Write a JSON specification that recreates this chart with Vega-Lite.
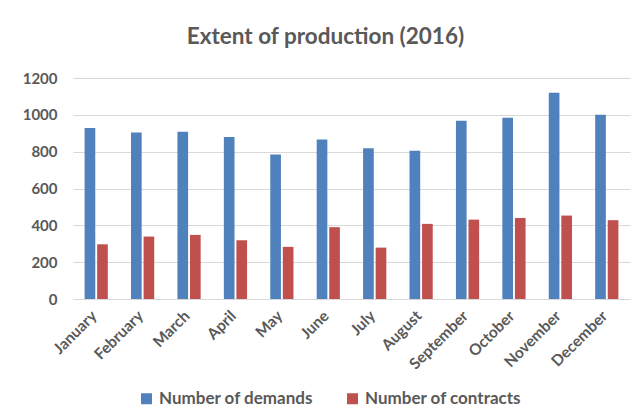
{
  "$schema": "https://vega.github.io/schema/vega-lite/v6.json",
  "width": 557,
  "height": 221,
  "autosize": {"type": "none"},
  "padding": {"left": 73, "top": 78, "right": 8, "bottom": 117},
  "background": "white",
  "title": {
    "text": "Extent of production (2016)",
    "font": "Lato",
    "fontSize": 22.5,
    "fontWeight": "bold",
    "color": "#595959",
    "anchor": "middle",
    "frame": "group",
    "dx": -26,
    "offset": 23
  },
  "data": {
    "values": [
      {"month": "January", "series": "Number of demands", "value": 928},
      {"month": "February", "series": "Number of demands", "value": 904},
      {"month": "March", "series": "Number of demands", "value": 908},
      {"month": "April", "series": "Number of demands", "value": 879},
      {"month": "May", "series": "Number of demands", "value": 785},
      {"month": "June", "series": "Number of demands", "value": 866},
      {"month": "July", "series": "Number of demands", "value": 819},
      {"month": "August", "series": "Number of demands", "value": 805},
      {"month": "September", "series": "Number of demands", "value": 968},
      {"month": "October", "series": "Number of demands", "value": 984},
      {"month": "November", "series": "Number of demands", "value": 1120},
      {"month": "December", "series": "Number of demands", "value": 1000},
      {"month": "January", "series": "Number of contracts", "value": 297},
      {"month": "February", "series": "Number of contracts", "value": 339},
      {"month": "March", "series": "Number of contracts", "value": 348},
      {"month": "April", "series": "Number of contracts", "value": 319},
      {"month": "May", "series": "Number of contracts", "value": 283},
      {"month": "June", "series": "Number of contracts", "value": 390},
      {"month": "July", "series": "Number of contracts", "value": 279},
      {"month": "August", "series": "Number of contracts", "value": 408},
      {"month": "September", "series": "Number of contracts", "value": 431},
      {"month": "October", "series": "Number of contracts", "value": 440},
      {"month": "November", "series": "Number of contracts", "value": 453},
      {"month": "December", "series": "Number of contracts", "value": 428}
    ]
  },
  "mark": {"type": "bar"},
  "encoding": {
    "x": {
      "field": "month",
      "type": "nominal",
      "sort": null,
      "scale": {"paddingInner": 0.5, "paddingOuter": 0.25},
      "axis": {
        "title": null,
        "labelAngle": -45,
        "labelAlign": "right",
        "labelBaseline": "middle",
        "labelFont": "Lato",
        "labelFontSize": 15.5,
        "labelFontWeight": "bold",
        "labelColor": "#595959",
        "labelPadding": 14,
        "labelOffset": -2,
        "ticks": false,
        "domainColor": "#D9D9D9",
        "domainWidth": 1
      }
    },
    "xOffset": {
      "field": "series",
      "type": "nominal",
      "sort": ["Number of demands", "Number of contracts"],
      "scale": {"paddingInner": 0.15, "paddingOuter": 0}
    },
    "y": {
      "field": "value",
      "type": "quantitative",
      "scale": {"domain": [0, 1200]},
      "axis": {
        "title": null,
        "values": [0, 200, 400, 600, 800, 1000, 1200],
        "format": "d",
        "domain": false,
        "ticks": false,
        "labelFont": "Lato",
        "labelFontSize": 15,
        "labelFontWeight": "bold",
        "labelColor": "#595959",
        "labelPadding": 16,
        "gridColor": "#D9D9D9",
        "gridWidth": 1
      }
    },
    "color": {
      "field": "series",
      "type": "nominal",
      "sort": ["Number of demands", "Number of contracts"],
      "scale": {"domain": ["Number of demands", "Number of contracts"], "range": ["#4F81BD", "#C0504D"]},
      "legend": {
        "title": null,
        "orient": "none",
        "legendX": 65,
        "legendY": 312,
        "direction": "horizontal",
        "symbolType": "square",
        "symbolSize": 121,
        "symbolStrokeWidth": 0,
        "symbolOffset": 0,
        "labelFont": "Lato",
        "labelFontSize": 17,
        "labelFontWeight": "bold",
        "labelColor": "#595959",
        "labelOffset": 4,
        "labelLimit": 300,
        "columnPadding": 30
      }
    }
  },
  "config": {
    "view": {"stroke": null}
  }
}
